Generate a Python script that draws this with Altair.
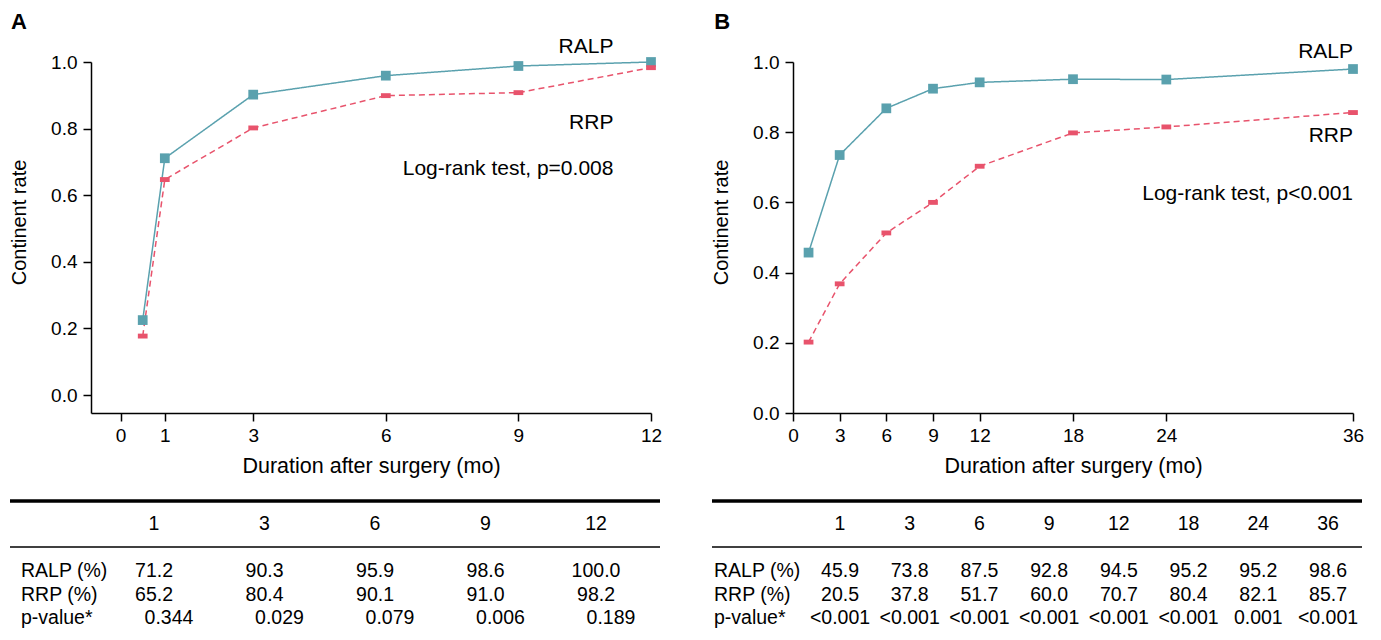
import altair as alt
import pandas as pd

FONT = "Liberation Sans"
TEAL = "#5AA1AE"
PINK = "#E8536C"

# ---------------- data: panel A ----------------
months_a = [0.5, 1, 3, 6, 9, 12]
ralp_a = [0.225, 0.711, 0.902, 0.959, 0.988, 1.0]
rrp_a = [0.177, 0.647, 0.802, 0.899, 0.908, 0.983]
xticks_a = [0, 1, 3, 6, 9, 12]

# ---------------- data: panel B ----------------
months_b = [1, 3, 6, 9, 12, 18, 24, 36]
ralp_b = [0.457, 0.735, 0.868, 0.924, 0.942, 0.951, 0.950, 0.980]
rrp_b = [0.202, 0.368, 0.513, 0.600, 0.703, 0.798, 0.815, 0.856]
xticks_b = [0, 3, 6, 9, 12, 18, 24, 36]

yticks = [0.0, 0.2, 0.4, 0.6, 0.8, 1.0]

# ---------------- tables ----------------
row_labels = ["RALP (%)", "RRP (%)", "p-value*"]

cols_a = ["1", "3", "6", "9", "12"]
tab_ralp_a = ["71.2", "90.3", "95.9", "98.6", "100.0"]
tab_rrp_a = ["65.2", "80.4", "90.1", "91.0", "98.2"]
tab_p_a = ["0.344", "0.029", "0.079", "0.006", "0.189"]

cols_b = ["1", "3", "6", "9", "12", "18", "24", "36"]
tab_ralp_b = ["45.9", "73.8", "87.5", "92.8", "94.5", "95.2", "95.2", "98.6"]
tab_rrp_b = ["20.5", "37.8", "51.7", "60.0", "70.7", "80.4", "82.1", "85.7"]
tab_p_b = ["<0.001", "<0.001", "<0.001", "<0.001", "<0.001", "<0.001", "0.001", "<0.001"]

PLOT_W = 560
PLOT_H = 351
TAB_H = 140


def label(text, x, y, size=21, align="right", weight="normal", baseline="middle"):
    return alt.Chart(pd.DataFrame({"t": [text]})).mark_text(
        align=align, baseline=baseline, fontSize=size, fontWeight=weight,
        font=FONT, color="black"
    ).encode(x=alt.datum(x), y=alt.datum(y), text="t:N")


def plot_panel(months, ralp, rrp, xdom, ydom, xticks, letter, letter_xy, ann_x, ann_ys):
    n = len(months)
    df = pd.DataFrame({
        "month": list(months) * 2,
        "rate": list(ralp) + list(rrp),
        "group": ["RALP"] * n + ["RRP"] * n,
    })
    xenc = alt.X("month:Q", scale=alt.Scale(domain=xdom, nice=False, zero=False),
                 axis=alt.Axis(values=xticks, format="d", title="Duration after surgery (mo)",
                               labelPadding=5, titlePadding=10, titleFontSize=21.5,
                               labelFlush=False))
    yenc = alt.Y("rate:Q", scale=alt.Scale(domain=ydom, nice=False, zero=False),
                 axis=alt.Axis(values=yticks, format=".1f", title="Continent rate",
                               labelPadding=6, titleX=-66, titleY=160, labelFlush=False,
                               titleBaseline="alphabetic", titleFontSize=20))
    color = alt.Color("group:N", scale=alt.Scale(domain=["RALP", "RRP"], range=[TEAL, PINK]), legend=None)
    dash = alt.StrokeDash("group:N", scale=alt.Scale(domain=["RALP", "RRP"], range=[[1, 0], [6, 4]]), legend=None)
    shape = alt.Shape("group:N", scale=alt.Scale(domain=["RALP", "RRP"],
                      range=["square", "M-1,-0.5L1,-0.5L1,0.5L-1,0.5Z"]), legend=None)
    base = alt.Chart(df)
    lines = base.mark_line(strokeWidth=1.5).encode(x=xenc, y=yenc, color=color, strokeDash=dash)
    pts = base.mark_point(filled=True, opacity=1, size=95).encode(x="month:Q", y="rate:Q", color=color, shape=shape)
    layers = [lines, pts,
              label("RALP", ann_x, ann_ys[0]),
              label("RRP", ann_x, ann_ys[1]),
              label(ann_ys[3], ann_x, ann_ys[2]),
              label(letter, letter_xy[0], letter_xy[1], size=22, align="left", weight="bold", baseline="top")]
    return alt.layer(*layers).properties(width=PLOT_W, height=PLOT_H)


def table_panel(cols, ralp, rrp, pvals, col_range, lab_x, p_dx):
    rows_dom = ["header", "gap", "RALP (%)", "RRP (%)", "p-value*"]
    recs = []
    for c in cols:
        recs.append({"col": c, "row": "header", "t": c})
    for c, v in zip(cols, ralp):
        recs.append({"col": c, "row": "RALP (%)", "t": v})
    for c, v in zip(cols, rrp):
        recs.append({"col": c, "row": "RRP (%)", "t": v})
    main = pd.DataFrame(recs)
    pdf = pd.DataFrame({"col": cols, "row": ["p-value*"] * len(cols), "t": pvals})
    xs = alt.X("col:N", scale=alt.Scale(type="point", domain=cols, range=col_range, padding=0), axis=None)
    ys = alt.Y("row:N", scale=alt.Scale(type="point", domain=rows_dom, range=[33, 127], padding=0), axis=None)
    txt = dict(fontSize=19.5, font=FONT, color="black", baseline="middle")
    t1 = alt.Chart(main).mark_text(align="center", **txt).encode(x=xs, y=ys, text="t:N")
    t2 = alt.Chart(pdf).mark_text(align="center", dx=p_dx, **txt).encode(x="col:N", y="row:N", text="t:N")
    labs = alt.Chart(pd.DataFrame({"row": row_labels})).mark_text(align="left", **txt).encode(
        x=alt.value(lab_x), y="row:N", text="row:N")
    thick = alt.Chart(pd.DataFrame({"r": [0]})).mark_rule(strokeWidth=3.5, color="black").encode(
        x=alt.value(-81), x2=alt.value(569), y=alt.value(10))
    thin = alt.Chart(pd.DataFrame({"r": [0]})).mark_rule(strokeWidth=1.5, color="black").encode(
        x=alt.value(-81), x2=alt.value(569), y=alt.value(56))
    return alt.layer(thick, thin, t1, t2, labs).properties(width=PLOT_W, height=TAB_H)


plotA = plot_panel(months_a, ralp_a, rrp_a, [-0.67, 12], [-0.054, 1.0], xticks_a,
                   "A", (-2.48, 1.150), 11.15, [1.046, 0.818, 0.68, "Log-rank test, p=0.008"])
plotB = plot_panel(months_b, ralp_b, rrp_b, [0, 36], [0, 1.0], xticks_b,
                   "B", (-5.06, 1.142), 36, [1.028, 0.789, 0.624, "Log-rank test, p<0.001"])

tableA = table_panel(cols_a, tab_ralp_a, tab_rrp_a, tab_p_a, [63, 505], -70, 15)
tableB = table_panel(cols_b, tab_ralp_b, tab_rrp_b, tab_p_b, [47, 535], -79, 0)

chart = alt.concat(plotA, plotB, tableA, tableB, columns=2,
                   spacing={"row": 78, "column": 142}, bounds="flush").resolve_scale(
    x="independent", y="independent"
).properties(
    padding={"left": 0, "top": 3, "right": 5, "bottom": 5}
).configure_view(strokeWidth=0).configure_axis(
    domainColor="black", domainWidth=1.5, tickColor="black", tickWidth=1.5, tickSize=8,
    labelFontSize=19, labelColor="black", labelFont=FONT, titleFont=FONT,
    titleFontWeight="normal", titleColor="black", grid=False
)

chart.save("out.html", embed_options={"renderer": "svg", "actions": False})
